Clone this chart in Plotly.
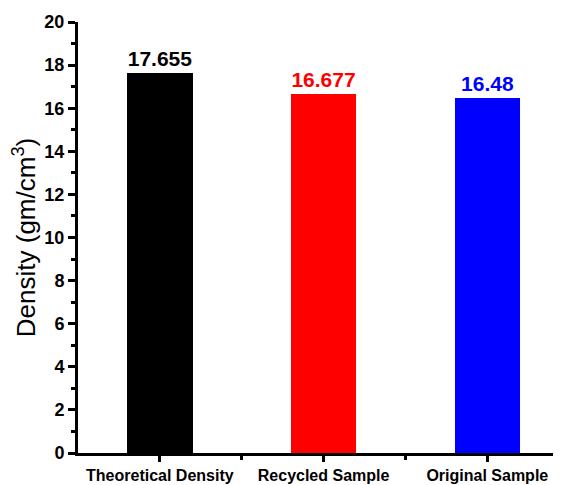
import plotly.graph_objects as go

categories = ["Theoretical Density", "Recycled Sample", "Original Sample"]
densities = [17.655, 16.677, 16.48]
value_labels = ["17.655", "16.677", "16.48"]
bar_colors = ["#000000", "#ff0000", "#0000ff"]
y_ticks = [0, 2, 4, 6, 8, 10, 12, 14, 16, 18, 20]

x_pos = list(range(len(categories)))

fig = go.Figure()
fig.add_trace(go.Bar(
    x=x_pos,
    y=densities,
    width=0.4,
    marker=dict(color=bar_colors, line=dict(width=0)),
    text=value_labels,
    textposition="outside",
    textfont=dict(family="Arial, Liberation Sans", size=21, color=bar_colors, weight="bold"),
    cliponaxis=False,
))

# page body has an 8px margin, so the figure is sized to fit the 561x485 window
fig.update_layout(
    width=553, height=477,
    margin=dict(l=70, r=0, t=14, b=32, autoexpand=False),
    paper_bgcolor="white", plot_bgcolor="white",
    showlegend=False,
    bargap=0,
)

fig.update_xaxes(
    range=[-0.5, 2.45],
    automargin=False,
    tickmode="array", tickvals=x_pos, ticktext=categories,
    tickfont=dict(family="Arial, Liberation Sans", size=16, color="black", weight="bold"),
    showline=True, linecolor="black", linewidth=3,
    ticks="outside", ticklen=6, tickwidth=3, tickcolor="black",
    minor=dict(tickmode="array", tickvals=[0.5, 1.5], ticks="outside", ticklen=4, tickwidth=3, tickcolor="black"),
    showgrid=False, zeroline=False,
)

fig.update_yaxes(
    range=[0, 20],
    automargin=False,
    tickmode="array", tickvals=y_ticks,
    tickfont=dict(family="Arial, Liberation Sans", size=18, color="black", weight="bold"),
    showline=True, linecolor="black", linewidth=3,
    ticks="outside", ticklen=7, tickwidth=3, tickcolor="black",
    minor=dict(dtick=1, tick0=0, ticks="outside", ticklen=4, tickwidth=3, tickcolor="black"),
    showgrid=False, zeroline=False,
    title=dict(text="Density (gm/cm<sup>3</sup>)", font=dict(family="Arial, Liberation Sans", size=26, color="black"), standoff=9),
)

fig.write_html("out.html")
